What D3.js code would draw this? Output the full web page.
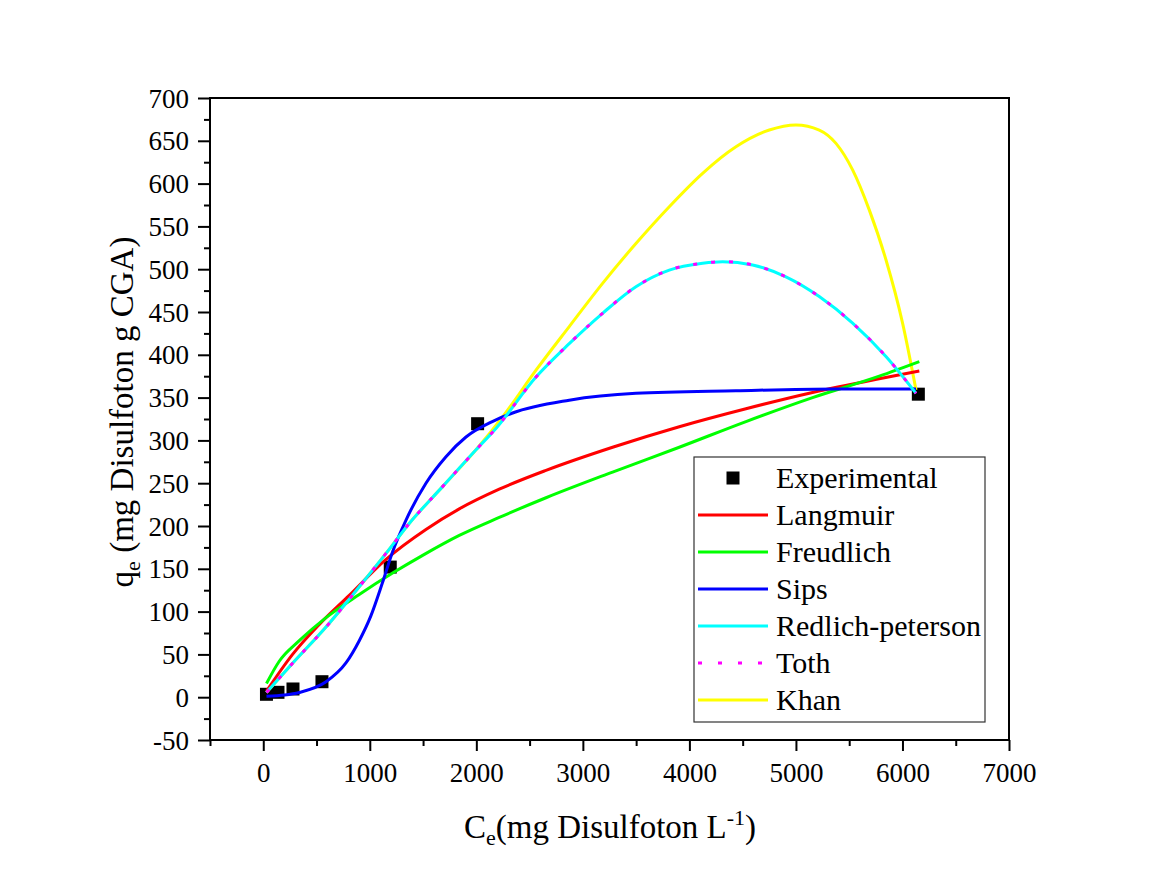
<!DOCTYPE html>
<html>
<head>
<meta charset="utf-8">
<script src="https://cdn.jsdelivr.net/npm/d3@7"></script>
<style>
  html, body { margin: 0; padding: 0; background: #ffffff; }
  svg { display: block; }
  text { font-family: "Liberation Serif", "Times New Roman", serif; fill: #000; }
</style>
</head>
<body>
<svg id="chart" width="1164" height="884"></svg>
<script>
// ---------- DATA ----------
const xMajorTicks = [0, 1000, 2000, 3000, 4000, 5000, 6000, 7000];
const xMinorTicks = [-500, 500, 1500, 2500, 3500, 4500, 5500, 6500];
const yMajorTicks = [-50, 0, 50, 100, 150, 200, 250, 300, 350, 400, 450, 500, 550, 600, 650, 700];
const yMinorTicks = [-25, 25, 75, 125, 175, 225, 275, 325, 375, 425, 475, 525, 575, 625, 675];

const ceExp = [30, 138, 279, 551, 1192, 2012, 6149];
const qExp  = [3.4, 5.7, 9.6, 18.1, 152, 319.5, 354];

const ceLangmuir = [30, 275, 526, 807, 1152, 1527, 1840, 2215, 2654, 3279, 3905, 4531, 5156, 5782, 6158];
const qLangmuir  = [7, 50, 85, 119, 161, 196, 220, 243, 265, 292, 316, 337, 356, 372, 381];

const ceFreundlich = [30, 150, 338, 589, 901, 1214, 1500, 1840, 2215, 2654, 3279, 3905, 4531, 5156, 5782, 6158];
const qFreundlich  = [16, 42, 66, 93, 120, 145, 166, 189, 210, 233, 263, 292, 322, 350, 375, 392];

const ceSips = [30, 200, 338, 589, 776, 901, 1010, 1117, 1214, 1340, 1527, 1715, 1903, 2150, 2340, 2872, 3498, 4437, 5376, 6127];
const qSips  = [1, 2.5, 5.5, 18, 40, 66, 95, 133, 170, 207, 250, 281, 304, 322, 332, 347, 355, 358, 360, 360];

const ceRP = [30, 275, 589, 901, 1152, 1370, 1683, 1997, 2184, 2560, 2872, 3185, 3498, 3811, 4124, 4312, 4593, 4906, 5219, 5532, 5845, 6127];
const qRP  = [5.5, 39.6, 82, 129, 168, 203, 246, 289, 314, 374, 413, 448.5, 479.6, 499, 507, 508.8, 505, 491, 468, 437, 398, 355];

const ceToth = [30, 275, 589, 901, 1152, 1370, 1683, 1997, 2184, 2560, 2872, 3185, 3498, 3811, 4124, 4312, 4593, 4906, 5219, 5532, 5845, 6127];
const qToth  = [5.5, 39.6, 82, 129, 168, 203, 246, 289, 314, 374, 413, 448.5, 479.6, 499, 507, 508.8, 505, 491, 468, 437, 398, 355];

const ceKhan = [30, 275, 589, 901, 1152, 1370, 1683, 1997, 2250, 2560, 2872, 3185, 3498, 3811, 4124, 4437, 4750, 5000, 5219, 5376, 5532, 5689, 5845, 6001, 6127];
const qKhan  = [5.5, 39.6, 82, 129, 168, 203, 246, 289, 328, 382, 433, 483.5, 530, 573, 612, 643, 662.6, 668.5, 662.6, 647, 616, 569, 511, 437, 359];

const legendNames = ["Experimental", "Langmuir", "Freudlich", "Sips", "Redlich-peterson", "Toth", "Khan"];

// ---------- LAYOUT ----------
const svg = d3.select("#chart");
const plot = { left: 210, right: 1009, top: 98, bottom: 740 };

const x = d3.scaleLinear().domain([-500, 7000]).range([plot.left, plot.right]);
const y = d3.scaleLinear().domain([-50, 700]).range([plot.bottom, plot.top]);

const zip = (a, b) => a.map((v, i) => [v, b[i]]);
const line = d3.line().x(d => x(d[0])).y(d => y(d[1])).curve(d3.curveMonotoneX);
const fmt = d => String(d);

// ---------- AXES ----------
const axisFont = 27;
const gx = svg.append("g").attr("transform", `translate(0,${plot.bottom})`);
gx.call(d3.axisBottom(x).tickValues(xMajorTicks).tickSize(11).tickSizeOuter(0).tickFormat(fmt));
gx.select(".domain").remove();
gx.selectAll(".tick line").attr("stroke", "#000").attr("stroke-width", 2);
gx.selectAll(".tick text").attr("y", 42).attr("dy", 0).attr("font-size", axisFont).attr("fill", "#000");

const gxm = svg.append("g").attr("transform", `translate(0,${plot.bottom})`);
gxm.call(d3.axisBottom(x).tickValues(xMinorTicks).tickSize(6).tickSizeOuter(0).tickFormat(""));
gxm.select(".domain").remove();
gxm.selectAll(".tick line").attr("stroke", "#000").attr("stroke-width", 2);

const gy = svg.append("g").attr("transform", `translate(${plot.left},0)`);
gy.call(d3.axisLeft(y).tickValues(yMajorTicks).tickSize(12).tickSizeOuter(0).tickFormat(fmt));
gy.select(".domain").remove();
gy.selectAll(".tick line").attr("stroke", "#000").attr("stroke-width", 2);
gy.selectAll(".tick text").attr("x", -21).attr("dy", "0.34em").attr("font-size", axisFont).attr("fill", "#000");

const gym = svg.append("g").attr("transform", `translate(${plot.left},0)`);
gym.call(d3.axisLeft(y).tickValues(yMinorTicks).tickSize(6).tickSizeOuter(0).tickFormat(""));
gym.select(".domain").remove();
gym.selectAll(".tick line").attr("stroke", "#000").attr("stroke-width", 2);

// frame
svg.append("rect")
  .attr("x", plot.left).attr("y", plot.top)
  .attr("width", plot.right - plot.left).attr("height", plot.bottom - plot.top)
  .attr("fill", "none").attr("stroke", "#000").attr("stroke-width", 2);

// ---------- SERIES ----------
const sq = 13;
svg.append("g").selectAll("rect").data(zip(ceExp, qExp)).join("rect")
  .attr("x", d => x(d[0]) - sq / 2).attr("y", d => y(d[1]) - sq / 2)
  .attr("width", sq).attr("height", sq).attr("fill", "#000");

const series = [
  { data: zip(ceKhan, qKhan), color: "#ffff00", dash: null },
  { data: zip(ceLangmuir, qLangmuir), color: "#ff0000", dash: null },
  { data: zip(ceFreundlich, qFreundlich), color: "#00ff00", dash: null },
  { data: zip(ceSips, qSips), color: "#0000ff", dash: null },
  { data: zip(ceRP, qRP), color: "#00ffff", dash: null },
  { data: zip(ceToth, qToth), color: "#ff00ff", dash: "4,14" }
];
series.forEach(s => {
  svg.append("path").datum(s.data)
    .attr("d", line).attr("fill", "none")
    .attr("stroke", s.color).attr("stroke-width", 3)
    .attr("stroke-dasharray", s.dash);
});

// ---------- LEGEND ----------
const lg = svg.append("g");
lg.append("rect").attr("x", 694).attr("y", 457).attr("width", 291).attr("height", 265)
  .attr("fill", "#fff").attr("stroke", "#333").attr("stroke-width", 1.2);
const legendStyle = [
  { type: "square" },
  { type: "line", color: "#ff0000" },
  { type: "line", color: "#00ff00" },
  { type: "line", color: "#0000ff" },
  { type: "line", color: "#00ffff" },
  { type: "line", color: "#ff00ff", dash: "4,16" },
  { type: "line", color: "#ffff00" }
];
legendNames.forEach((name, i) => {
  const cy = 478 + i * 37;
  const st = legendStyle[i];
  if (st.type === "square") {
    lg.append("rect").attr("x", 733 - 6.5).attr("y", cy - 6.5).attr("width", 13).attr("height", 13).attr("fill", "#000");
  } else {
    lg.append("line").attr("x1", 698).attr("x2", 768).attr("y1", cy).attr("y2", cy)
      .attr("stroke", st.color).attr("stroke-width", 3).attr("stroke-dasharray", st.dash || null);
  }
  lg.append("text").attr("x", 776).attr("y", cy + 9.5).attr("font-size", 30).text(name);
});

// ---------- AXIS TITLES ----------
const xt = svg.append("text").attr("x", 610).attr("y", 838).attr("text-anchor", "middle").attr("font-size", 33);
xt.append("tspan").text("C");
xt.append("tspan").attr("font-size", 22).attr("dy", 7).text("e");
xt.append("tspan").attr("dy", -7).text("(mg Disulfoton L");
xt.append("tspan").attr("font-size", 22).attr("dy", -13).text("-1");
xt.append("tspan").attr("dy", 13).text(")");

const yt = svg.append("text").attr("transform", "translate(133,412) rotate(-90)")
  .attr("text-anchor", "middle").attr("font-size", 33);
yt.append("tspan").text("q");
yt.append("tspan").attr("font-size", 22).attr("dy", 7).text("e");
yt.append("tspan").attr("dy", -7).text(" (mg Disulfoton g CGA)");
</script>
</body>
</html>
